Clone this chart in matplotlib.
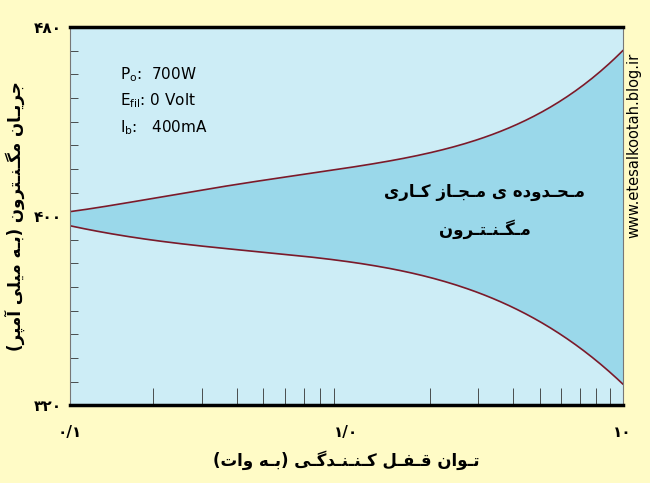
import numpy as np
import matplotlib
matplotlib.use("Agg")
import matplotlib.pyplot as plt

# data
x_pts = [0.1, 0.316, 1.0, 2.0, 3.16, 5.6, 10.0]
upper = [402.0, 411.0, 421.6, 426.7, 431.0, 449.0, 469.4]
lower = [395.8, 387.7, 379.0, 375.0, 368.7, 349.6, 329.7]
x_ticks = [0.1, 1.0, 10.0]
x_labels = ["۰/۱", "۱/۰", "۱۰"]
y_ticks = [320, 400, 480]
y_labels = ["۳۲۰", "۴۰۰", "۴۸۰"]

# minimal persian shaping (matplotlib has no bidi / joining)
FORMS = {
    "ا": ("\uFE8D", "\uFE8E", None, None), "آ": ("\uFE81", "\uFE82", None, None),
    "ب": ("\uFE8F", "\uFE90", "\uFE91", "\uFE92"), "پ": ("\uFB56", "\uFB57", "\uFB58", "\uFB59"),
    "ت": ("\uFE95", "\uFE96", "\uFE97", "\uFE98"), "ج": ("\uFE9D", "\uFE9E", "\uFE9F", "\uFEA0"),
    "ح": ("\uFEA1", "\uFEA2", "\uFEA3", "\uFEA4"), "د": ("\uFEA9", "\uFEAA", None, None),
    "ر": ("\uFEAD", "\uFEAE", None, None), "ز": ("\uFEAF", "\uFEB0", None, None),
    "ف": ("\uFED1", "\uFED2", "\uFED3", "\uFED4"), "ق": ("\uFED5", "\uFED6", "\uFED7", "\uFED8"),
    "ک": ("\uFB8E", "\uFB8F", "\uFB90", "\uFB91"), "گ": ("\uFB92", "\uFB93", "\uFB94", "\uFB95"),
    "ل": ("\uFEDD", "\uFEDE", "\uFEDF", "\uFEE0"), "م": ("\uFEE1", "\uFEE2", "\uFEE3", "\uFEE4"),
    "ن": ("\uFEE5", "\uFEE6", "\uFEE7", "\uFEE8"), "ه": ("\uFEE9", "\uFEEA", "\uFEEB", "\uFEEC"),
    "و": ("\uFEED", "\uFEEE", None, None), "ی": ("\uFBFC", "\uFBFD", "\uFBFE", "\uFBFF"),
    "ـ": ("ـ", "ـ", "ـ", "ـ"),
}


def fa(s):
    out = []
    for i, c in enumerate(s):
        if c not in FORMS:
            out.append(c)
            continue
        f = FORMS[c]
        prev = s[i - 1] if i > 0 else ""
        nxt = s[i + 1] if i + 1 < len(s) else ""
        jp = prev in FORMS and FORMS[prev][2] is not None
        jn = nxt in FORMS and f[2] is not None
        if jp and jn:
            out.append(f[3])
        elif jp:
            out.append(f[1])
        elif jn:
            out.append(f[2])
        else:
            out.append(f[0])
    r = "".join(out)[::-1]
    return r.translate(str.maketrans("()", ")("))


plt.rcParams['font.family'] = ['DejaVu Sans']
fig = plt.figure(figsize=(6.5, 4.83), dpi=100, facecolor="#FFFBC6")
ax = fig.add_axes([0.108, 0.161, 0.85, 0.783])
ax.set_facecolor("#CDEDF6")

xs = np.logspace(-1, 1, 200)
lx = np.log10(x_pts)
up = np.interp(np.log10(xs), lx, upper)
lo = np.interp(np.log10(xs), lx, lower)
from numpy.polynomial import polynomial as P
cu = P.polyfit(lx, upper, 4)
cl = P.polyfit(lx, lower, 4)
up = P.polyval(np.log10(xs), cu)
lo = P.polyval(np.log10(xs), cl)
ax.fill_between(xs, lo, up, color="#9AD8EA", lw=0)
ax.plot(xs, up, color="#7B1A2A", lw=1.2)
ax.plot(xs, lo, color="#7B1A2A", lw=1.2)

ax.set_xscale("log")
ax.set_xlim(0.1, 10)
ax.set_ylim(320, 480)
ax.set_xticks(x_ticks)
ax.set_xticklabels(x_labels, fontsize=11, fontweight="bold")
ax.set_yticks(y_ticks)
ax.set_yticklabels(y_labels, fontsize=11, fontweight="bold")
ax.set_yticks(np.arange(330, 480, 10), minor=True)
ax.tick_params(axis="x", which="both", direction="in", length=0, pad=14)
ax.tick_params(axis="x", which="minor", length=12, color="#333333")
ax.tick_params(axis="y", which="major", direction="in", length=0, pad=6)
ax.tick_params(axis="y", which="minor", direction="in", length=6, color="#333333")
for s in ["top", "bottom"]:
    ax.spines[s].set_linewidth(2.5)
for s in ["left", "right"]:
    ax.spines[s].set_linewidth(0.8)
    ax.spines[s].set_color("#777777")

ax.set_xlabel(fa("تـوان قـفـل کـنـنـدگـی (بـه وات)"), fontsize=12, fontweight="bold", labelpad=8)
ax.set_ylabel(fa("جریـان مگـنـترون (بـه میلی آمپر)"), fontsize=12, fontweight="bold", labelpad=6)

ax.text(0.09, 0.9, r"$\mathregular{P_o}$:  700W", transform=ax.transAxes, fontsize=11, va="top")
ax.text(0.09, 0.83, r"$\mathregular{E_{fil}}$: 0 Volt", transform=ax.transAxes, fontsize=11, va="top")
ax.text(0.09, 0.76, r"$\mathregular{I_b}$:   400mA", transform=ax.transAxes, fontsize=11, va="top")

ax.text(0.75, 0.55, fa("مـحـدوده ی مـجـاز کـاری"), transform=ax.transAxes,
        fontsize=12, fontweight="bold", ha="center")
ax.text(0.75, 0.45, fa("مـگـنـتـرون"), transform=ax.transAxes,
        fontsize=12, fontweight="bold", ha="center")

fig.text(0.975, 0.7, "www.etesalkootah.blog.ir", rotation=90, fontsize=10.5,
         ha="center", va="center")

fig.savefig("out.png", dpi=100, facecolor=fig.get_facecolor())
